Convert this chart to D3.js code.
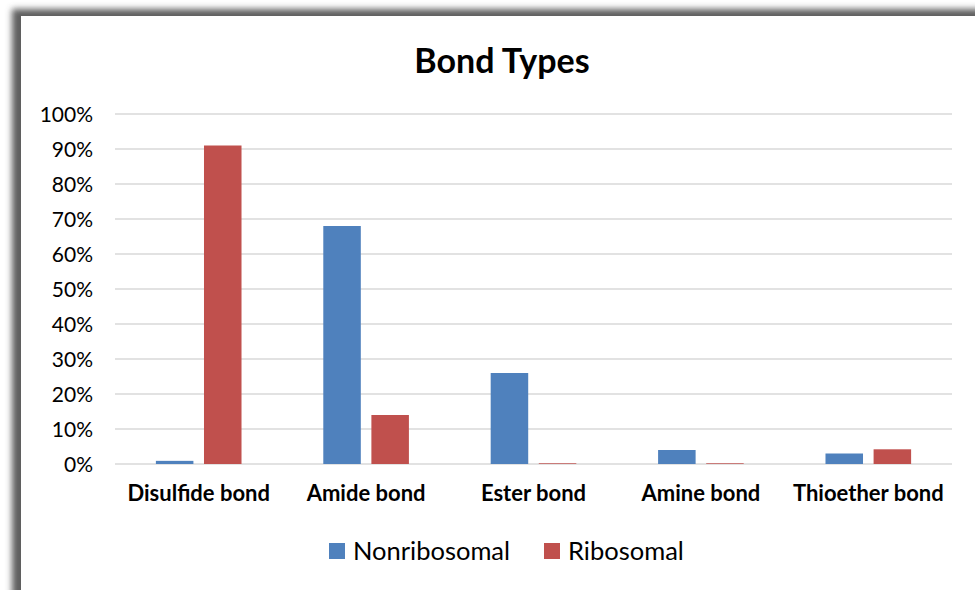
<!DOCTYPE html>
<html>
<head>
<meta charset="utf-8">
<script src="https://cdn.jsdelivr.net/npm/d3@7"></script>
<style>
  html, body { margin: 0; padding: 0; background: #ffffff; }
  svg { display: block; }
</style>
</head>
<body>
<svg id="chart" width="975" height="590"></svg>
<script>
// Bond type shares per peptide class
const categories = ["Disulfide bond", "Amide bond", "Ester bond", "Amine bond", "Thioether bond"];
const seriesNames = ["Nonribosomal", "Ribosomal"];
const nonribosomal = [0.9, 68, 26, 4, 3];
const ribosomal = [91, 14, 0.2, 0.2, 4.2];
const yTicks = [0, 10, 20, 30, 40, 50, 60, 70, 80, 90, 100];
const colors = ["#4f81bd", "#c0504d"];

const svg = d3.select("#chart");
const W = 975, H = 590;
const font = "Lato, 'Open Sans', 'DejaVu Sans', sans-serif";

// Framed panel with a soft dark edge on the top and left
const defs = svg.append("defs");
const blur = defs.append("filter").attr("id", "soft")
  .attr("x", "-10%").attr("y", "-10%").attr("width", "130%").attr("height", "130%");
blur.append("feGaussianBlur").attr("stdDeviation", 3);

svg.append("rect").attr("x", 0).attr("y", 0).attr("width", W).attr("height", H).attr("fill", "#ffffff");
svg.append("rect")
  .attr("x", 12).attr("y", 9).attr("width", W + 40).attr("height", H + 40)
  .attr("fill", "#5e5e5e").attr("filter", "url(#soft)");
svg.append("rect")
  .attr("x", 21).attr("y", 16).attr("width", W).attr("height", H)
  .attr("fill", "#ffffff");

// Plot geometry
const plot = { left: 115, right: 952, top: 114, bottom: 464 };

const x0 = d3.scaleBand().domain(categories).range([plot.left, plot.right]).paddingInner(0).paddingOuter(0);
const x1 = d3.scaleBand().domain(seriesNames).range([0, x0.bandwidth()]).paddingInner(0.22).paddingOuter(0.85);
const y = d3.scaleLinear().domain([0, 100]).range([plot.bottom, plot.top]);

// Gridlines
svg.append("g").selectAll("line").data(yTicks).join("line")
  .attr("x1", plot.left).attr("x2", plot.right)
  .attr("y1", d => y(d)).attr("y2", d => y(d))
  .attr("stroke", "#d9d9d9").attr("stroke-width", 1.5);

// Y axis labels
const yAxis = d3.axisLeft(y).tickValues(yTicks).tickFormat(d => d + "%").tickSize(0).tickPadding(0);
const yg = svg.append("g").attr("transform", `translate(${plot.left - 22},0)`).call(yAxis);
yg.select(".domain").remove();
yg.selectAll("text").attr("font-family", font).attr("font-size", 21).attr("fill", "#000").attr("dy", "0.36em");

// Bars
const rows = categories.map((c, i) => ({ cat: c, vals: [nonribosomal[i], ribosomal[i]] }));
const groups = svg.append("g").selectAll("g").data(rows).join("g")
  .attr("transform", d => `translate(${x0(d.cat)},0)`);
groups.selectAll("rect").data(d => d.vals.map((v, j) => ({ s: seriesNames[j], v, j }))).join("rect")
  .attr("x", d => x1(d.s))
  .attr("width", x1.bandwidth())
  .attr("y", d => y(d.v))
  .attr("height", d => y(0) - y(d.v))
  .attr("fill", d => colors[d.j]);

// Category labels
const xAxis = d3.axisBottom(x0).tickSize(0).tickPadding(0);
const xg = svg.append("g").attr("transform", `translate(0,${plot.bottom + 37})`).call(xAxis);
xg.select(".domain").remove();
xg.selectAll("text").attr("font-family", font).attr("font-size", 22).attr("font-weight", "bold")
  .attr("fill", "#000").attr("dy", 0);

// Title
svg.append("text").attr("x", 502).attr("y", 73).attr("text-anchor", "middle")
  .attr("font-family", font).attr("font-size", 34).attr("font-weight", "bold").attr("fill", "#000")
  .text("Bond Types");

// Legend
const legendX = [329, 544];
const lg = svg.append("g").selectAll("g").data(seriesNames).join("g")
  .attr("transform", (d, i) => `translate(${legendX[i]},543)`);
lg.append("rect").attr("width", 16).attr("height", 16).attr("fill", (d, i) => colors[i]);
lg.append("text").attr("x", 24).attr("y", 16.5).attr("font-family", font).attr("font-size", 25.5).attr("fill", "#000")
  .text(d => d);
</script>
</body>
</html>
